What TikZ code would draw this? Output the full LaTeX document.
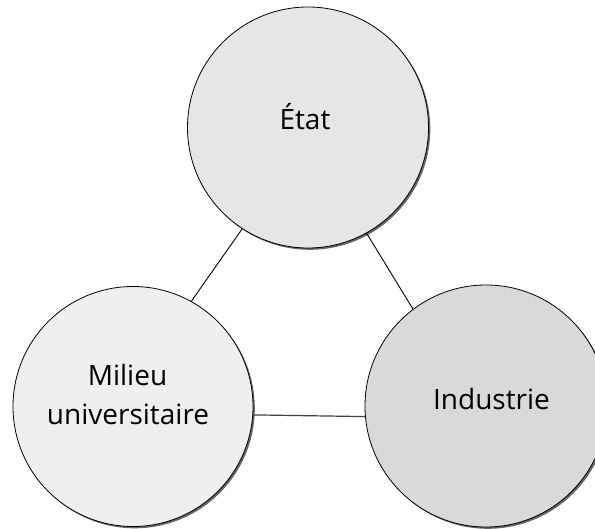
\documentclass[tikz,border=0pt]{standalone}
\usepackage{fontspec}
\setmainfont{Open Sans}
\usetikzlibrary{shadows}
\definecolor{fillTop}{HTML}{E6E6E6}
\definecolor{fillLeft}{HTML}{EFEFEF}
\definecolor{fillRight}{HTML}{D9D9D9}
\begin{document}
\begin{tikzpicture}[x=1pt,y=-1pt,
  bubble/.style={circle,draw=black,line width=0.8pt,inner sep=0pt,
    drop shadow={shadow xshift=1.8pt,shadow yshift=-1.8pt,fill=black!60,opacity=1}},
  lbl/.style={anchor=base,inner sep=0pt,font=\fontsize{28}{34}\selectfont},
  link/.style={draw=black,line width=0.9pt},
  linkb/.style={draw=black!75,line width=1.2pt}]
\useasboundingbox (0,0) rectangle (595,529);
\node[bubble,fill=fillTop,minimum size=241pt] (etat) at (308,127.5) {};
\node[bubble,fill=fillLeft,minimum size=240pt] (milieu) at (133,406.5) {};
\node[bubble,fill=fillRight,minimum size=242pt] (industrie) at (486,406) {};
\draw[link] (etat.237.9) -- (milieu.61.8);
\draw[link] (etat.299.2) -- (industrie.127);
\draw[linkb] (milieu.-4.9) -- (industrie.185);
\node[lbl] (tetat) at (305,129.3) {État};
\node[lbl] (tmil1) at (127.5,386) {Milieu};
\node[lbl] (tmil2) at (128,425) {universitaire};
\node[lbl] (tind) at (491.5,409.3) {Industrie};
\end{tikzpicture}
\end{document}
